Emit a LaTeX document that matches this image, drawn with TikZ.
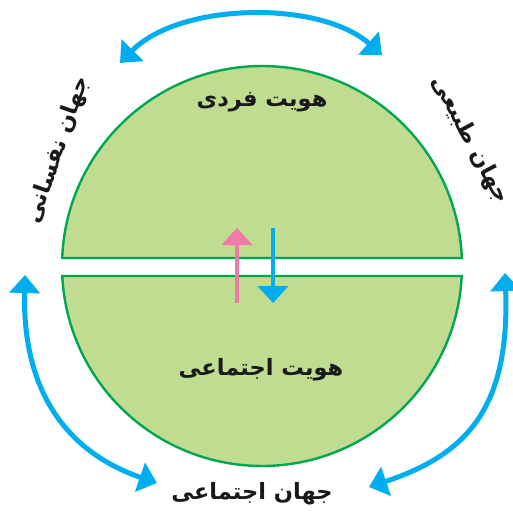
\documentclass[tikz,border=0pt]{standalone}
\usepackage{fontspec}
\usetikzlibrary{arrows.meta}
\newfontfamily\farsi[Script=Arabic]{DejaVu Sans}
\TeXXeTstate=1
\definecolor{leaf}{RGB}{191,220,145}
\definecolor{rim}{RGB}{0,166,81}
\definecolor{sky}{RGB}{0,174,239}
\definecolor{rose}{RGB}{240,122,168}
\newcommand{\fa}[1]{{\farsi\bfseries\beginR #1\endR}}
\begin{document}
\begin{tikzpicture}[x=1pt,y=-1pt,
	cyc/.style={sky,line width=5pt,{Triangle[length=18pt,width=30pt]}-{Triangle[length=18pt,width=30pt]}},
	half/.style={fill=leaf,draw=rim,line width=2.4pt},
	lbl/.style={font=\fontsize{22.5}{26}\selectfont,text=black!90}]
	\useasboundingbox (0,0) rectangle (513,513);
	% two halves of the disc
	\draw[half] (262,266) ++(-2.29:200) arc[start angle=-2.29,end angle=-177.71,radius=200] -- cycle;
	\draw[half] (262,266) ++(2.87:200) arc[start angle=2.87,end angle=177.13,radius=200] -- cycle;
	\node[lbl] (self) at (262,102) {\fa{هویت فردی}};
	\node[lbl] (soc) at (261,370) {\fa{هویت اجتماعی}};
	% up and down
	\coordinate (ub) at (237,303);
	\coordinate (ut) at (237,228);
	\coordinate (db) at (273,303);
	\coordinate (dt) at (273,228);
	\draw[rose,line width=4.5pt,-{Triangle[length=17pt,width=30pt]}] (ub) -- (ut);
	\draw[sky,line width=4.5pt,-{Triangle[length=17pt,width=30pt]}] (dt) -- (db);
	% worlds
	\node[lbl,rotate=71] (psy) at (58,150) {\fa{جهان نفسانی}};
	\node[lbl,rotate=-62] (nat) at (470,140) {\fa{جهان طبیعی}};
	\node[lbl] (com) at (252,494) {\fa{جهان اجتماعی}};
	\coordinate (tl) at (120,63);
	\coordinate (tr) at (382,55);
	\coordinate (lt) at (25,275);
	\coordinate (lb) at (157,483);
	\coordinate (rt) at (505,273);
	\coordinate (rb) at (369,487);
	\draw[cyc] (tl) .. controls (180,2) and (320,0) .. (tr);
	\draw[cyc] (lt) .. controls (22,400) and (75,455) .. (lb);
	\draw[cyc] (rt) .. controls (510,410) and (465,455) .. (rb);
\end{tikzpicture}
\end{document}
